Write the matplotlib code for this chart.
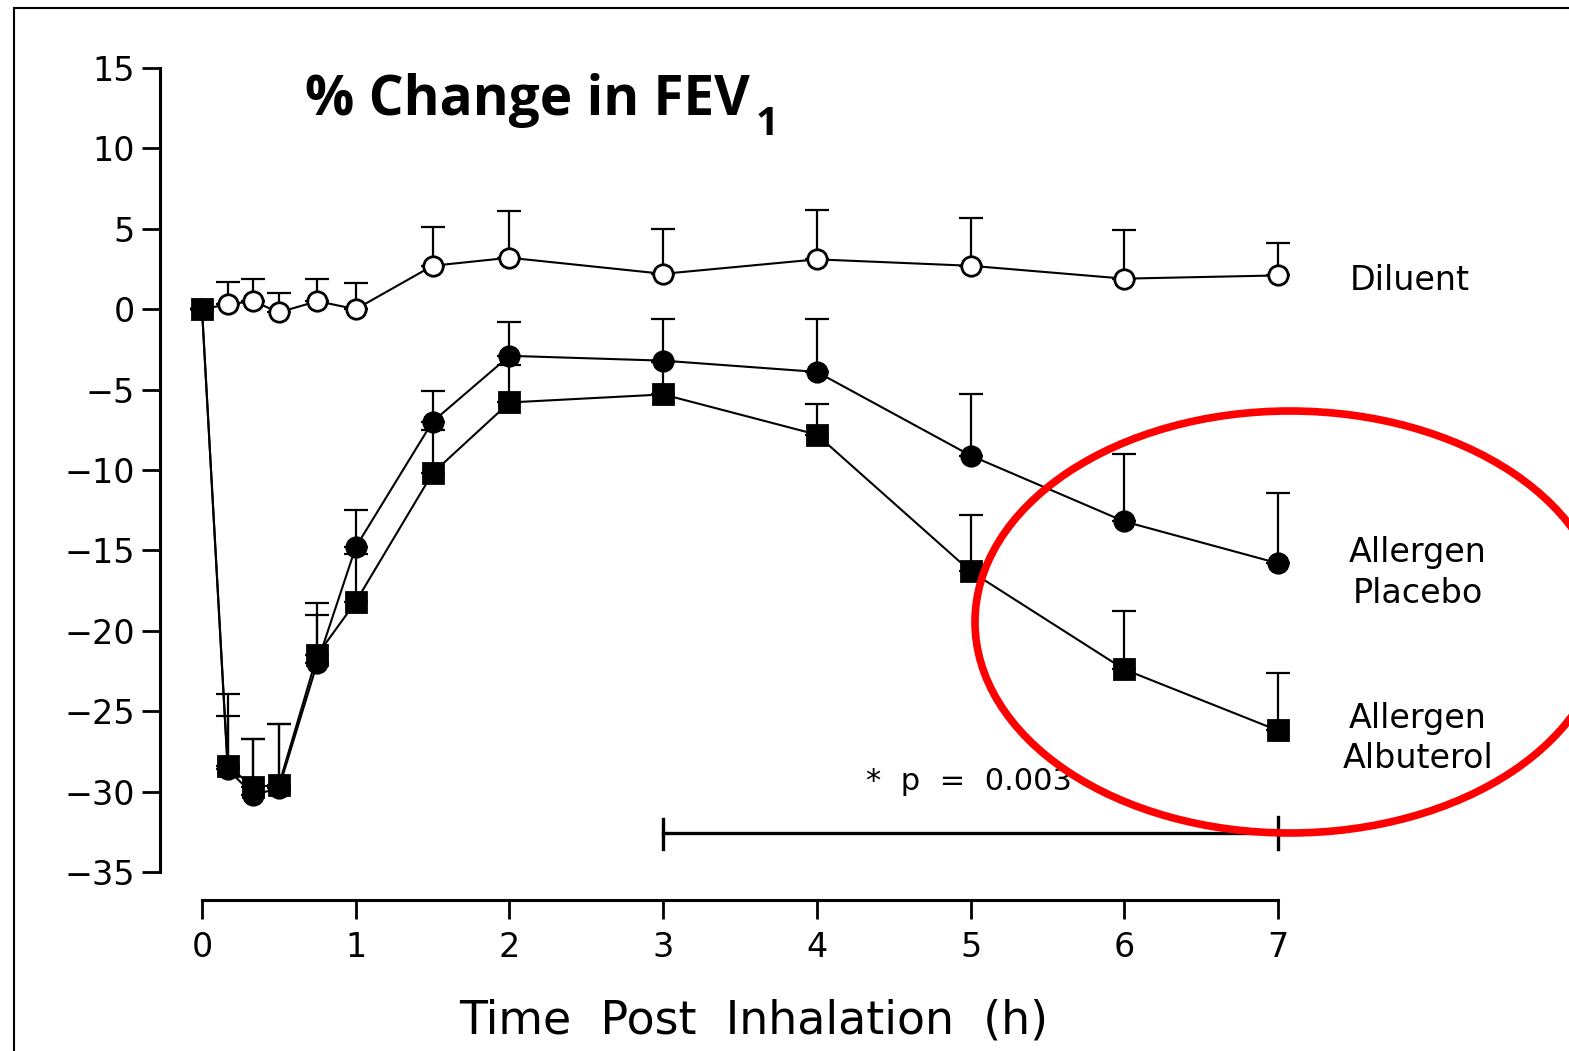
import numpy as np
import matplotlib.pyplot as plt
from matplotlib.patches import Ellipse, Rectangle

# --------------------------------------------------------------
# DATA
# --------------------------------------------------------------
time_h = [0, 0.167, 0.333, 0.5, 0.75, 1, 1.5, 2, 3, 4, 5, 6, 7]

diluent = [0, 0.3, 0.5, -0.2, 0.5, 0.0, 2.7, 3.2, 2.2, 3.1, 2.7, 1.9, 2.1]
diluent_err = [0, 1.4, 1.4, 1.2, 1.4, 1.6, 2.4, 2.9, 2.8, 3.1, 3.0, 3.0, 2.0]

placebo = [0, -28.6, -30.2, -29.8, -22.0, -14.8, -7.0, -2.9, -3.2, -3.9, -9.1, -13.2, -15.8]
placebo_err = [0, 4.7, 3.5, 4.0, 3.0, 2.3, 1.9, 2.1, 2.6, 3.3, 3.8, 4.2, 4.4]

albuterol = [0, -28.4, -29.7, -29.6, -21.5, -18.2, -10.2, -5.8, -5.3, -7.8, -16.3, -22.4, -26.2]
albuterol_err = [0, 3.1, 3.0, 3.8, 3.2, 3.0, 2.7, 2.3, 2.0, 1.9, 3.5, 3.6, 3.6]

y_ticks = [15, 10, 5, 0, -5, -10, -15, -20, -25, -30, -35]
x_ticks = [0, 1, 2, 3, 4, 5, 6, 7]

FONT = "DejaVu Sans"
plt.rcParams["font.family"] = FONT

# --------------------------------------------------------------
# FIGURE
# --------------------------------------------------------------
fig = plt.figure(figsize=(15.69, 10.51), dpi=100)
ax = fig.add_axes([0.1020, 0.1437, 0.7419, 0.7916])
ax.set_xlim(-0.273, 7.3)
ax.set_ylim(-36.74, 15)


def draw_series(y, err, marker, face, first=0):
    zeros = np.zeros(len(err))
    ax.errorbar(time_h, y, yerr=[zeros, err], fmt="none", ecolor="black",
                elinewidth=1.6, capsize=8.5, capthick=1.6, zorder=2)
    ax.plot(time_h, y, color="black", linewidth=1.5, zorder=3)
    ax.plot(time_h[first:], y[first:], linestyle="none", marker=marker,
            markersize=14, markerfacecolor=face, markeredgecolor="black",
            markeredgewidth=2, zorder=4)


# diluent starts from the shared origin point (hidden under the square)
draw_series(diluent, diluent_err, "o", "white", first=1)
draw_series(placebo, placebo_err, "o", "black")
draw_series(albuterol, albuterol_err, "s", "black")

# --------------------------------------------------------------
# AXES STYLE
# --------------------------------------------------------------
for side in ["top", "right"]:
    ax.spines[side].set_visible(False)
ax.spines["left"].set_bounds(-35, 15)
ax.spines["bottom"].set_bounds(0, 7)
ax.spines["left"].set_linewidth(2.2)
ax.spines["bottom"].set_linewidth(2.2)

ax.set_yticks(y_ticks)
ax.set_xticks(x_ticks)
ax.tick_params(axis="both", direction="out", width=2, labelsize=24)
ax.tick_params(axis="y", length=13, pad=5)
ax.tick_params(axis="x", length=14, pad=8)

ax.set_xlabel("Time  Post  Inhalation  (h)", fontsize=33)
ax.xaxis.set_label_coords(0.5103, -0.1185)

# --------------------------------------------------------------
# ANNOTATIONS
# --------------------------------------------------------------
title = ax.text(0.67, 12.1, "% Change in FEV", fontsize=39.5, fontweight="bold",
                fontfamily="Open Sans", va="baseline", ha="left")
ax.annotate("1", xy=(1, 0), xycoords=title, xytext=(4, -5), textcoords="offset points",
            fontsize=29, fontweight="bold", fontfamily="Open Sans", va="baseline", ha="left")

ax.text(7.47, 1.8, "Diluent", fontsize=24, va="center", ha="left", clip_on=False)
ax.text(7.91, -16.4, "Allergen\nPlacebo", fontsize=24, va="center",
        ha="center", linespacing=1.3, clip_on=False)
ax.text(7.91, -26.7, "Allergen\nAlbuterol", fontsize=24, va="center",
        ha="center", linespacing=1.3, clip_on=False)

# significance bracket
ax.plot([3, 7], [-32.6, -32.6], color="black", linewidth=2.4)
ax.plot([3, 3], [-31.7, -33.6], color="black", linewidth=2.4)
ax.plot([7, 7], [-31.6, -33.6], color="black", linewidth=2.4)
ax.text(4.99, -29.4, "*  p  =  0.003", fontsize=22, va="center", ha="center")

# red highlight ellipse and frame, in figure pixels
W, H = 1569, 1051
ell = Ellipse((1290 / W, 1 - 622 / H), 2 * 315 / W, 2 * 211 / H, transform=fig.transFigure,
              fill=False, edgecolor="#ff0000", linewidth=5.5, zorder=10)
fig.add_artist(ell)
frame = Rectangle((14 / W, -0.02), 1.05, 1 - 8 / H + 0.02, transform=fig.transFigure,
                  fill=False, edgecolor="black", linewidth=1.5)
fig.add_artist(frame)

fig.savefig("out.png", dpi=100)
